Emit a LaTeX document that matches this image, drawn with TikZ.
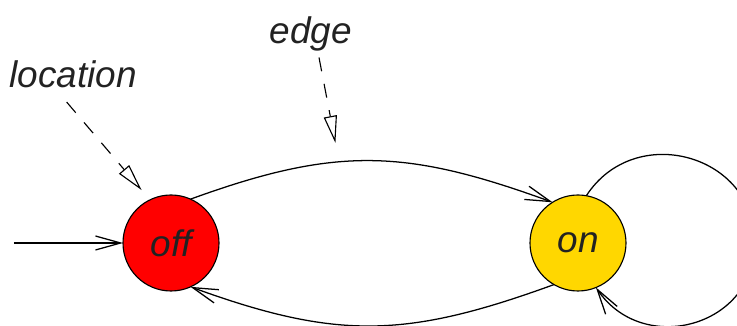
\documentclass[tikz,border=0pt]{standalone}
\usepackage{fontspec}
\setmainfont{Liberation Sans}
\usepackage{tikz}
\usetikzlibrary{arrows.meta, positioning}
\definecolor{locred}{RGB}{255,0,0}
\definecolor{locgold}{RGB}{255,215,0}
\definecolor{txtdark}{RGB}{34,34,34}
\tikzset{
  loc/.style={circle, draw=black, minimum size=2.4cm, inner sep=0pt, outer sep=0pt,
    font=\fontsize{26.3}{31}\selectfont\itshape, text=txtdark, line width=0.8pt},
  offloc/.style={loc, fill=locred},
  onloc/.style={loc, fill=locgold},
  note/.style={inner sep=0pt, font=\fontsize{26.3}{31}\selectfont\itshape, text=txtdark},
  arrow/.style={-{Straight Barb[length=0.63cm, width=0.35cm]}, line width=0.9pt, color=black},
  pointer/.style={-{Triangle[open, length=0.68cm, width=0.33cm]}, line width=0.8pt,
    dash pattern=on 0.35cm off 0.32cm}
}

\begin{document}
\begin{tikzpicture}
  \useasboundingbox (-4.275,-2.075) rectangle (14.15,6.075);
  \node[offloc] (off) at (0,0) {off};
  \node[onloc, right=7.775cm of off] (on) {on};
  \coordinate[left=2.725cm of off.west] (init);
  \coordinate[right=4.425cm of on.center] (loopside);
  \node[note, above left=3.025cm and 0cm of off] (loctxt) {location};
  \node[note] (edgetxt) at (3.5,5.225) {edge};

  \draw[arrow] (init) -- (off);
  \draw[arrow] (off.66) to[out=20, in=160, looseness=1.1] coordinate[pos=0.4] (hit) (on.122);
  \draw[arrow] (on.240) to[out=200, in=-20, looseness=1.1] (off.294);
  \draw[arrow] (on.80) to[out=57, in=90, looseness=1.3] (loopside)
    to[out=-90, in=-56, looseness=1.3] (on.-68);
  \draw[pointer, shorten >=0.32cm] ([xshift=-0.16cm, yshift=-0.35cm]loctxt.south) -- (off.116);
  \draw[pointer, shorten >=0.48cm] ([xshift=0.2cm, yshift=-0.15cm]edgetxt.south) -- (hit);
\end{tikzpicture}
\end{document}
